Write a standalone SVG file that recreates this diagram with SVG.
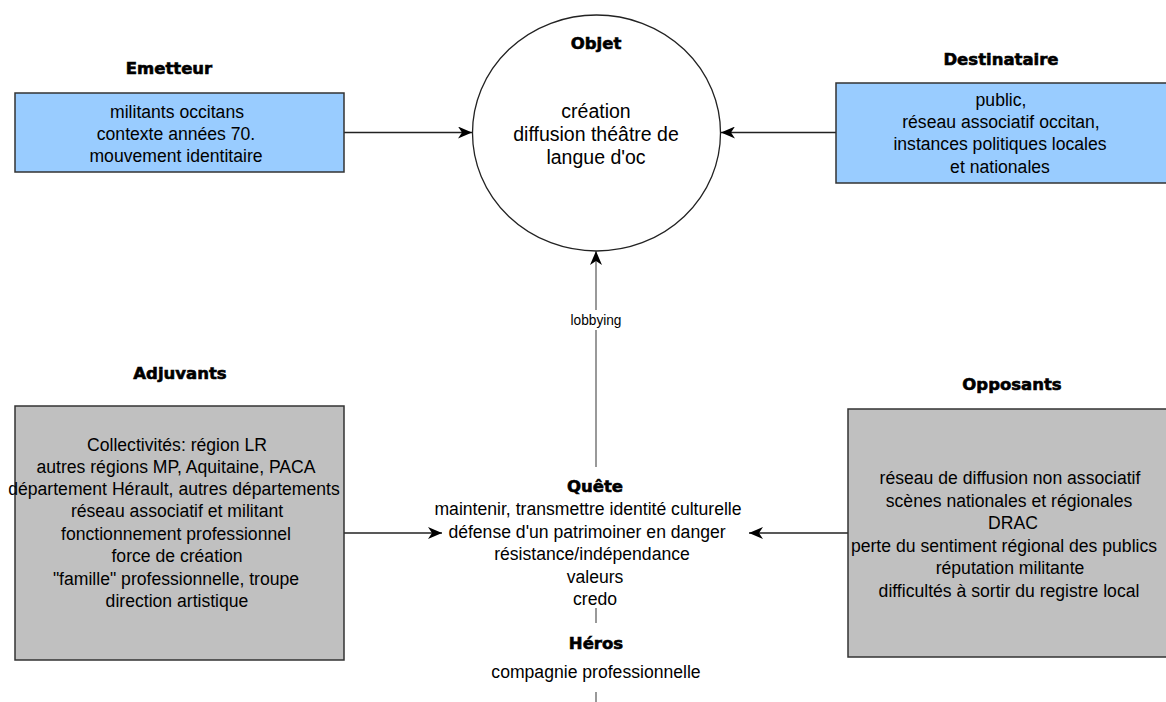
<svg xmlns="http://www.w3.org/2000/svg" width="1166" height="702" viewBox="0 0 1166 702">
<defs>
<marker id="ah" viewBox="0 0 14 12" refX="14" refY="6" markerWidth="14" markerHeight="12" markerUnits="userSpaceOnUse" orient="auto">
<path d="M0,0 L14,6 L0,12 L4,6 Z" fill="#000"/>
</marker>
<style>
.t{font-family:"Liberation Sans",Arial,sans-serif;font-size:17.6px;fill:#000;text-anchor:middle}
.o{font-size:19.5px}
.h{font-family:"DejaVu Sans","Liberation Sans",sans-serif;font-weight:bold;font-size:16.5px;fill:#000;stroke:#000;stroke-width:0.6;text-anchor:middle}
.blue{fill:#99ccff;stroke:#333;stroke-width:1.5}
.grey{fill:#c0c0c0;stroke:#333;stroke-width:1.5}
.c{stroke:#222;stroke-width:1.3;fill:none}
.v{stroke:#777;stroke-width:1.5;fill:none}
.lbl{font-family:"Liberation Sans",Arial,sans-serif;font-size:15px;fill:#000;text-anchor:middle}
</style>
</defs>
<rect width="1166" height="702" fill="#fff"/>
<g id="connectors">
<line class="c" x1="344" y1="132.5" x2="472" y2="132.5" marker-end="url(#ah)"/>
<line class="c" x1="836" y1="132.5" x2="721" y2="132.5" marker-end="url(#ah)"/>
<line class="c" x1="344" y1="533" x2="442" y2="533" marker-end="url(#ah)"/>
<line class="c" x1="848" y1="533" x2="749" y2="533" marker-end="url(#ah)"/>
<line class="v" x1="596" y1="467" x2="596" y2="251" marker-end="url(#ah)"/>
<rect x="566" y="310" width="60" height="20" fill="#fff"/>
<text class="lbl" x="596" y="325" textLength="51" lengthAdjust="spacingAndGlyphs">lobbying</text>
<line class="v" x1="596" y1="608" x2="596" y2="623"/>
<line class="v" x1="596" y1="692" x2="596" y2="702"/>
</g>
<g id="objet">
<ellipse cx="596.5" cy="133" rx="124" ry="118" fill="#fff" stroke="#222" stroke-width="1.3"/>
<text class="h" x="596" y="49">Objet</text>
<text class="t o" x="596" y="118">création</text>
<text class="t o" x="596" y="141">diffusion théâtre de</text>
<text class="t o" x="596" y="164">langue d'oc</text>
</g>
<g id="emetteur">
<text class="h" x="169" y="74">Emetteur</text>
<rect class="blue" x="15" y="93" width="329" height="79"/>
<text class="t" x="177" y="118">militants occitans</text>
<text class="t" x="176" y="140">contexte années 70.</text>
<text class="t" x="176" y="162">mouvement identitaire</text>
</g>
<g id="destinataire">
<text class="h" x="1001" y="65">Destinataire</text>
<rect class="blue" x="836" y="83" width="335" height="100"/>
<text class="t" x="1001" y="106">public,</text>
<text class="t" x="1001" y="128"> réseau associatif occitan,</text>
<text class="t" x="1000" y="150">instances politiques locales</text>
<text class="t" x="1000" y="173">et nationales</text>
</g>
<g id="adjuvants">
<text class="h" x="180" y="379">Adjuvants</text>
<rect class="grey" x="15" y="406" width="329" height="254"/>
<text class="t" x="177" y="451">Collectivités: région LR</text>
<text class="t" x="176" y="473">autres régions MP, Aquitaine, PACA</text>
<text class="t" x="174" y="495">département Hérault, autres départements</text>
<text class="t" x="177" y="517">réseau associatif et militant</text>
<text class="t" x="176" y="540">fonctionnement professionnel</text>
<text class="t" x="177" y="562">force de création</text>
<text class="t" x="176" y="585">"famille" professionnelle, troupe</text>
<text class="t" x="177" y="607">direction artistique</text>
</g>
<g id="opposants">
<text class="h" x="1012" y="390">Opposants</text>
<rect class="grey" x="848" y="409" width="323" height="248"/>
<text class="t" x="1010" y="484">réseau de diffusion non associatif</text>
<text class="t" x="1009" y="507">scènes nationales et régionales</text>
<text class="t" x="1013" y="529">DRAC</text>
<text class="t" x="1004" y="552">perte du sentiment régional des publics</text>
<text class="t" x="1010" y="574">réputation militante</text>
<text class="t" x="1009" y="597">difficultés à sortir du registre local</text>
</g>
<g id="quete">
<text class="h" x="595" y="492">Quête</text>
<text class="t" x="588" y="515">maintenir, transmettre identité culturelle</text>
<text class="t" x="587" y="538">défense d'un patrimoiner en danger</text>
<text class="t" x="592" y="560">résistance/indépendance</text>
<text class="t" x="595" y="583">valeurs</text>
<text class="t" x="595" y="605">credo</text>
</g>
<g id="heros">
<text class="h" x="596" y="649">Héros</text>
<text class="t" x="596" y="678">compagnie professionnelle</text>
</g>
</svg>
